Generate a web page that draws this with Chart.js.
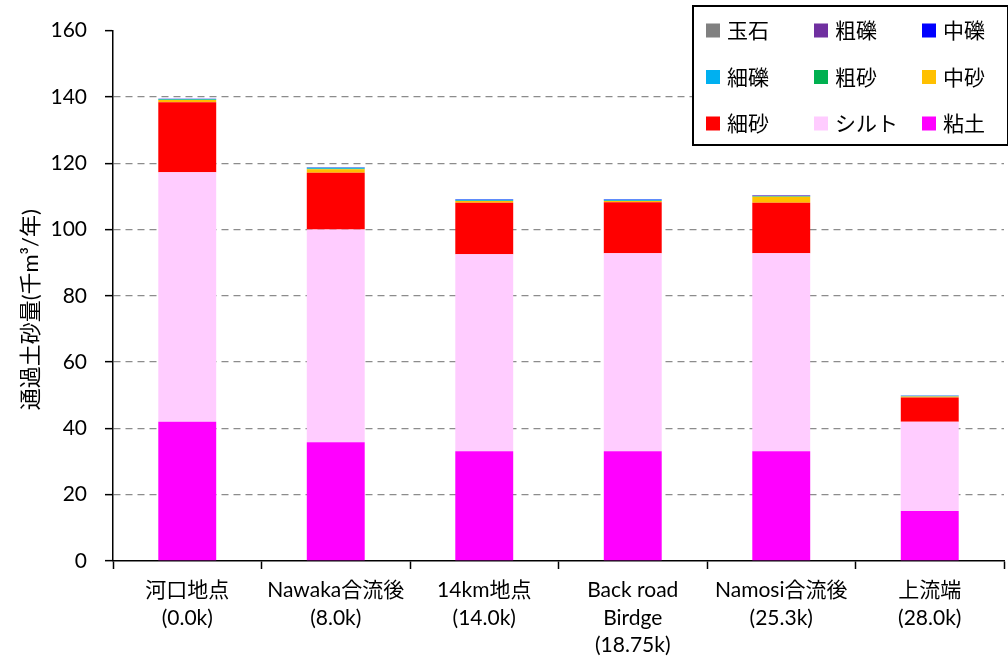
<!DOCTYPE html>
<html>
<head>
<meta charset="utf-8">
<script src="https://cdn.jsdelivr.net/npm/chart.js@4"></script>
<style>
  html, body { margin: 0; padding: 0; background: #ffffff; }
  #wrap { width: 1008px; height: 659px; }
</style>
</head>
<body>
<div id="wrap"><canvas id="c" width="1008" height="659"></canvas></div>
<script>
// Survey points along the river (multi-line axis labels)
const categories = [
  ['河口地点', '(0.0k)'],
  ['Nawaka合流後', '(8.0k)'],
  ['14km地点', '(14.0k)'],
  ['Back road', 'Birdge', '(18.75k)'],
  ['Namosi合流後', '(25.3k)'],
  ['上流端', '(28.0k)']
];

// Annual sediment passing each point, by grain class (thousand m3/year)
const clay       = [42.0, 35.8, 33.1, 33.1, 33.1, 15.1];   // 粘土
const silt       = [75.3, 64.2, 59.4, 59.7, 59.7, 26.9];   // シルト
const fineSand   = [21.1, 17.1, 15.6, 15.4, 15.3, 7.3];    // 細砂
const medSand    = [0.7, 1.1, 0.5, 0.4, 1.8, 0.3];         // 中砂
const coarseSand = [0.1, 0.1, 0.1, 0.1, 0.1, 0.05];        // 粗砂
const fineGravel = [0.2, 0.3, 0.3, 0.3, 0.1, 0.2];         // 細礫
const medGravel  = [0.05, 0.1, 0.1, 0.1, 0.1, 0.05];       // 中礫
const coarseGravel = [0.02, 0.05, 0.05, 0.05, 0.1, 0.02];  // 粗礫
const boulder    = [0, 0, 0, 0, 0, 0];                     // 玉石

const yTicks = [0, 20, 40, 60, 80, 100, 120, 140, 160];
const yTitle = '通過土砂量(千m³/年)';

const FONT = "Lato, 'Noto Sans CJK JP', sans-serif";

// Stack order: bottom first
const series = [
  { label: '粘土',   data: clay,         color: '#FF00FF' },
  { label: 'シルト', data: silt,         color: '#FFCCFF' },
  { label: '細砂',   data: fineSand,     color: '#FF0000' },
  { label: '中砂',   data: medSand,      color: '#FFC000' },
  { label: '粗砂',   data: coarseSand,   color: '#00B050' },
  { label: '細礫',   data: fineGravel,   color: '#00B0F0' },
  { label: '中礫',   data: medGravel,    color: '#0000FF' },
  { label: '粗礫',   data: coarseGravel, color: '#7030A0' },
  { label: '玉石',   data: boulder,      color: '#808080' }
];

// Vertical y-axis title beside the tick labels
const yTitlePlugin = {
  id: 'yTitlePlugin',
  afterDraw(chart) {
    const ctx = chart.ctx;
    const area = chart.chartArea;
    ctx.save();
    ctx.translate(31, (area.top + area.bottom) / 2 + 14);
    ctx.rotate(-Math.PI / 2);
    ctx.font = "22px " + FONT;
    ctx.fillStyle = '#000000';
    ctx.textAlign = 'center';
    ctx.textBaseline = 'middle';
    ctx.fillText(yTitle, 0, 0);
    ctx.restore();
  }
};

// Boxed 3x3 legend drawn over the top-right of the plot
const boxLegend = {
  id: 'boxLegend',
  afterDraw(chart) {
    const ctx = chart.ctx;
    const items = chart.data.datasets.slice().reverse();
    const x0 = 693, y0 = 6, w = 315, h = 139;
    ctx.save();
    ctx.fillStyle = '#ffffff';
    ctx.fillRect(x0, y0, w, h);
    ctx.strokeStyle = '#000000';
    ctx.lineWidth = 2;
    ctx.strokeRect(x0, y0, w, h);
    const colX = [706, 814, 922];
    const rowY = [30.5, 77, 123.5];
    ctx.font = "21px " + FONT;
    ctx.textBaseline = 'middle';
    ctx.textAlign = 'left';
    items.forEach((ds, i) => {
      const cx = colX[i % 3], cy = rowY[Math.floor(i / 3)];
      ctx.fillStyle = ds.backgroundColor;
      ctx.fillRect(cx, cy - 7, 14, 14);
      ctx.fillStyle = '#000000';
      ctx.fillText(ds.label, cx + 21, cy + 1);
    });
    ctx.restore();
  }
};

new Chart(document.getElementById('c'), {
  type: 'bar',
  data: {
    labels: categories,
    datasets: series.map(s => ({
      label: s.label,
      data: s.data,
      backgroundColor: s.color,
      borderWidth: 0,
      barPercentage: 0.39,
      categoryPercentage: 1.0
    }))
  },
  options: {
    responsive: false,
    animation: false,
    devicePixelRatio: 1,
    layout: { padding: { top: 28, right: 4, left: 0, bottom: 0 } },
    plugins: {
      legend: { display: false },
      tooltip: { enabled: false }
    },
    scales: {
      x: {
        stacked: true,
        afterFit(scale) { scale.height = 98; },
        border: { display: true, color: '#000000', width: 1.5 },
        grid: {
          offset: true,
          drawOnChartArea: false,
          drawTicks: true,
          tickLength: 8,
          tickColor: '#000000',
          tickWidth: 1.5
        },
        ticks: {
          color: '#000000',
          padding: 8,
          maxRotation: 0,
          autoSkip: false,
          font: { family: FONT, size: 21, lineHeight: 1.3 }
        }
      },
      y: {
        stacked: true,
        min: 0,
        max: 160,
        afterFit(scale) { scale.width = 113; },
        afterBuildTicks(scale) { scale.ticks = yTicks.map(v => ({ value: v })); },
        border: { display: true, color: '#000000', width: 1.5, dash: [7, 5] },
        grid: {
          drawTicks: true,
          tickLength: 8,
          tickColor: '#000000',
          tickWidth: 1.5,
          lineWidth: 1.3,
          color: ctx => (ctx.tick && (ctx.tick.value === 0 || ctx.tick.value === 160)) ? 'rgba(0,0,0,0)' : '#8c8c8c',
          tickBorderDash: []
        },
        ticks: {
          color: '#000000',
          padding: 18,
          font: { family: FONT, size: 21 }
        },
        title: { display: false }
      }
    }
  },
  plugins: [yTitlePlugin, boxLegend]
});
</script>
</body>
</html>
